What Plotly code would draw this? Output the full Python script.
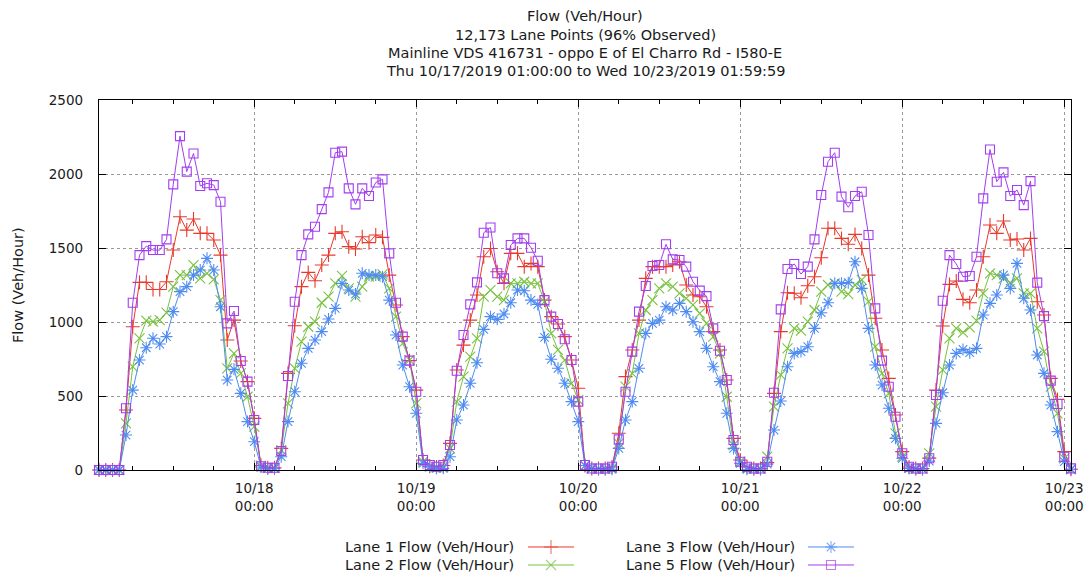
import pandas as pd
import plotly.graph_objects as go

# ---------------- data (hourly, Thu 10/17/2019 01:00 .. Wed 10/23/2019 01:00) ----------------
start_time = "2019-10-17 01:00"
n_hours = 145

lane1 = [0, 0, 0, 0, 405, 968, 1268, 1268, 1220, 1220, 1272, 1486, 1711, 1621, 1696, 1599, 1599, 1554, 1452, 878, 1013, 736, 597, 349,
         30, 15, 15, 146, 653, 975, 1239, 1335, 1279, 1385, 1452, 1599, 1610, 1509, 1493, 1576, 1536, 1588, 1572, 1317, 1115, 901, 739, 540,
         68, 25, 20, 30, 180, 676, 844, 1013, 1182, 1441, 1497, 1340, 1261, 1464, 1464, 1374, 1396, 1374, 1148, 1036, 986, 901, 743, 552,
         30, 10, 10, 10, 20, 248, 631, 811, 1013, 1295, 1374, 1374, 1374, 1385, 1407, 1250, 1182, 1171, 1103, 935, 811, 608, 214, 68,
         20, 10, 10, 50, 518, 935, 1198, 1194, 1164, 1245, 1306, 1434, 1633, 1633, 1565, 1525, 1592, 1497, 1317, 1025, 811, 619, 372, 124,
         20, 10, 10, 80, 540, 973, 1254, 1277, 1153, 1130, 1216, 1441, 1655, 1599, 1682, 1554, 1561, 1486, 1565, 1137, 1047, 619, 477, 124,
         5]

lane2 = [0, 0, 0, 0, 315, 698, 890, 1009, 1002, 1013, 1063, 1239, 1317, 1317, 1385, 1295, 1329, 1288, 1148, 687, 788, 653, 495, 293,
         30, 15, 15, 135, 450, 687, 867, 968, 1002, 1130, 1171, 1261, 1311, 1227, 1171, 1239, 1306, 1306, 1322, 1227, 1036, 856, 743, 450,
         56, 25, 20, 20, 146, 462, 631, 766, 890, 1171, 1216, 1171, 1148, 1261, 1261, 1272, 1261, 1261, 1137, 923, 811, 743, 585, 473,
         30, 10, 10, 10, 15, 180, 563, 653, 923, 1081, 1148, 1227, 1261, 1239, 1193, 1160, 1115, 1058, 991, 901, 788, 495, 169, 56,
         15, 10, 10, 90, 428, 642, 822, 957, 941, 1002, 1081, 1205, 1250, 1261, 1205, 1189, 1250, 1284, 1137, 833, 653, 518, 248, 90,
         15, 10, 10, 113, 428, 676, 890, 957, 930, 964, 1009, 1194, 1329, 1317, 1295, 1266, 1295, 1194, 1194, 957, 800, 563, 383, 79,
         5]

lane3 = [0, 0, 0, 0, 236, 540, 743, 826, 890, 851, 901, 1070, 1205, 1239, 1317, 1351, 1430, 1351, 1103, 608, 680, 518, 327, 191,
         20, 10, 10, 90, 327, 529, 721, 822, 878, 935, 1020, 1092, 1261, 1216, 1189, 1329, 1317, 1317, 1306, 1148, 912, 709, 563, 383,
         45, 20, 11, 11, 90, 338, 439, 586, 725, 950, 1036, 1018, 1054, 1130, 1216, 1211, 1148, 1119, 896, 748, 687, 586, 462, 327,
         30, 10, 5, 5, 5, 146, 338, 462, 687, 923, 991, 1013, 1103, 1081, 1126, 1070, 1002, 935, 822, 698, 597, 383, 146, 45,
         5, 5, 5, 40, 270, 466, 698, 788, 800, 833, 957, 1063, 1130, 1261, 1261, 1266, 1407, 1227, 957, 709, 574, 417, 214, 79,
         10, 5, 5, 60, 315, 522, 709, 788, 815, 793, 822, 1047, 1126, 1182, 1317, 1227, 1396, 1160, 1081, 777, 653, 439, 259, 56,
         5]

lane5 = [0, 0, 0, 0, 417, 1130, 1452, 1513, 1486, 1486, 1558, 1930, 2256, 2016, 2139, 1919, 1937, 1925, 1813, 991, 1074, 736, 597, 338,
         25, 15, 15, 128, 635, 1137, 1452, 1592, 1644, 1763, 1876, 2144, 2151, 1903, 1795, 1903, 1851, 1943, 1964, 1464, 1130, 901, 739, 529,
         68, 34, 22, 34, 169, 671, 912, 1119, 1268, 1603, 1639, 1329, 1295, 1520, 1565, 1565, 1502, 1414, 1148, 1036, 986, 883, 743, 462,
         34, 10, 10, 10, 22, 207, 529, 800, 1070, 1243, 1378, 1385, 1525, 1423, 1419, 1374, 1272, 1212, 1175, 957, 806, 608, 203, 56,
         22, 10, 10, 56, 522, 1085, 1358, 1392, 1324, 1374, 1558, 1858, 2083, 2144, 1847, 1775, 1851, 1880, 1588, 1092, 739, 563, 360, 113,
         22, 10, 10, 79, 507, 1144, 1452, 1392, 1306, 1311, 1441, 1835, 2166, 1948, 2011, 1851, 1892, 1790, 1952, 1266, 1040, 604, 446, 90,
         11]

series_names = ["Lane 1 Flow (Veh/Hour)", "Lane 2 Flow (Veh/Hour)",
                "Lane 3 Flow (Veh/Hour)", "Lane 5 Flow (Veh/Hour)"]
series_values = [lane1, lane2, lane3, lane5]

day_ticks = ["2019-10-18", "2019-10-19", "2019-10-20", "2019-10-21", "2019-10-22", "2019-10-23"]
day_tick_text = ["10/18<br>00:00", "10/19<br>00:00", "10/20<br>00:00",
                 "10/21<br>00:00", "10/22<br>00:00", "10/23<br>00:00"]
y_ticks = [0, 500, 1000, 1500, 2000, 2500]

title_lines = ["Flow (Veh/Hour)",
               "12,173 Lane Points (96% Observed)",
               "Mainline VDS 416731 - oppo E of El Charro Rd - I580-E",
               "Thu 10/17/2019 01:00:00 to Wed 10/23/2019 01:59:59"]

# ---------------- styling ----------------
colors = ["#e8392b", "#78c23f", "#4f8cf2", "#a23ef0"]
symbols = ["cross-thin", "x-thin", "asterisk", "square-open"]
sizes = [10, 10, 10, 9]
FONT = "DejaVu Sans"
TXT = "#1a1a1a"
TEXT_SIZE = 14.5
TICK_SIZE = 13.5

W, H = 1090, 581
L, R, T, B = 99, 19, 100, 0
plot_h = H - T - B
axis_bottom_px = 470
y_dom0 = (H - axis_bottom_px) / plot_h

times = pd.date_range(start_time, periods=n_hours, freq="h")

fig = go.Figure()
for name, vals, c, s, sz in zip(series_names, series_values, colors, symbols, sizes):
    fig.add_trace(go.Scatter(
        x=times, y=vals, name=name, mode="lines+markers",
        line=dict(color=c, width=1),
        marker=dict(symbol=s, size=sz, color=c, line=dict(color=c, width=1.1)),
        cliponaxis=False, showlegend=False,
    ))

# custom gnuplot-style legend (text, then sample) on an auxiliary axis in pixel units
legend_rows = [(0, 0), (1, 0), (0, 1), (1, 1)]  # (row, col) for lane1, lane2, lane3, lane5
col_text_right = [516, 797]
col_sample = [(528, 574), (808, 854)]
row_py = [547, 565]
for (row, col), name, c, s, sz in zip(legend_rows, series_names, colors, symbols, sizes):
    x0, x1 = col_sample[col]
    yy = H - row_py[row]
    fig.add_trace(go.Scatter(
        x=[x0, (x0 + x1) / 2, x1], y=[yy, yy, yy], xaxis="x2", yaxis="y2",
        mode="lines+markers", line=dict(color=c, width=1),
        marker=dict(symbol=s, size=[0, sz, 0], color=c, line=dict(color=c, width=1.1)),
        showlegend=False, hoverinfo="skip", cliponaxis=False,
    ))
    fig.add_annotation(text=name, xref="paper", yref="paper",
                       x=(col_text_right[col] - L) / (W - L - R), y=(H - row_py[row]) / plot_h,
                       xanchor="right", yanchor="middle", showarrow=False,
                       font=dict(family=FONT, size=TEXT_SIZE, color=TXT))

# title lines
for line, py in zip(title_lines, [16, 35, 53, 71]):
    fig.add_annotation(text=line, xref="paper", yref="paper", x=0.5, y=(H - py) / plot_h,
                       xanchor="center", yanchor="middle", showarrow=False,
                       font=dict(family=FONT, size=TEXT_SIZE, color=TXT))

# y-axis title
fig.add_annotation(text="Flow (Veh/Hour)", xref="paper", yref="paper",
                   x=(18 - L) / (W - L - R), y=(H - 285) / plot_h, textangle=-90,
                   xanchor="center", yanchor="middle", showarrow=False,
                   font=dict(family=FONT, size=TEXT_SIZE, color=TXT))

fig.update_layout(
    template="none",
    width=W, height=H,
    margin=dict(l=L, r=R, t=T, b=B, pad=0, autoexpand=False),
    paper_bgcolor="white", plot_bgcolor="white",
    font=dict(family=FONT, size=13, color=TXT),
    showlegend=False,
    xaxis=dict(
        type="date", range=[times[0], times[-1]], anchor="y", automargin=False,
        tickmode="array", tickvals=day_ticks, ticktext=day_tick_text,
        ticks="inside", ticklen=7, tickwidth=1, tickcolor="black",
        showline=True, linecolor="black", linewidth=1.3, mirror="ticks",
        showgrid=True, gridcolor="#9a9a9a", griddash="dot", gridwidth=1,
        zeroline=False, ticklabelstandoff=6,
        tickfont=dict(family=FONT, size=TICK_SIZE, color=TXT),
        minor=dict(dtick=6 * 3600 * 1000, tick0=day_ticks[0], ticks="inside", ticklen=4,
                   tickcolor="black", showgrid=False),
    ),
    yaxis=dict(
        domain=[y_dom0, 1], anchor="x", range=[0, 2500], automargin=False,
        tickmode="array", tickvals=y_ticks,
        ticks="inside", ticklen=7, tickwidth=1, tickcolor="black",
        showline=True, linecolor="black", linewidth=1.3, mirror="ticks",
        showgrid=True, gridcolor="#9a9a9a", griddash="dot", gridwidth=1,
        zeroline=False, ticklabelstandoff=12,
        tickfont=dict(family=FONT, size=TICK_SIZE, color=TXT),
    ),
    xaxis2=dict(domain=[0, 1], anchor="y2", range=[L, W - R], visible=False,
                fixedrange=True, automargin=False),
    yaxis2=dict(domain=[0, y_dom0 * 0.85], anchor="x2", range=[0, plot_h * y_dom0 * 0.85],
                visible=False, fixedrange=True, automargin=False),
)

fig.write_html("out.html")
